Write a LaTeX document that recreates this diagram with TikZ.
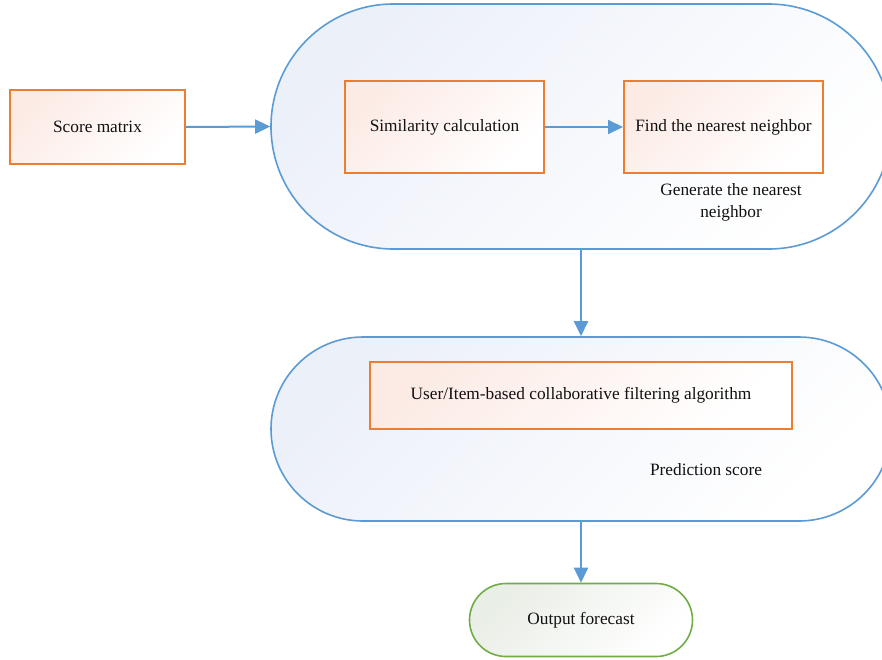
\documentclass[tikz,border=0pt]{standalone}
\usepackage{fontspec}
\setmainfont{Liberation Serif}
\usetikzlibrary{arrows.meta,shapes.misc}

\definecolor{boxline}{HTML}{ED7D31}
\definecolor{boxfill}{HTML}{FCEBE5}
\definecolor{stageline}{HTML}{5B9BD5}
\definecolor{stagefill}{HTML}{ECF0F9}
\definecolor{endline}{HTML}{70AD47}
\definecolor{endfill}{HTML}{E9EEE6}
\definecolor{flow}{HTML}{5B9BD5}
\definecolor{ink}{HTML}{111111}

\tikzset{
  txt/.style={font=\fontsize{17.3}{22}\selectfont, text=ink, align=center},
  stepbox/.style={txt, draw=boxline, line width=2pt, inner sep=0pt,
    top color=boxfill, bottom color=white, shading angle=45},
  stage/.style={rounded rectangle, draw=stageline, line width=1.6pt, inner sep=0pt,
    top color=stagefill, bottom color=white, shading angle=45},
  endcap/.style={txt, rounded rectangle, draw=endline, line width=1.6pt, inner sep=0pt,
    top color=endfill, bottom color=white, shading angle=45},
  flowarrow/.style={draw=flow, line width=2pt,
    -{Triangle[length=15pt,width=14pt]}, color=flow},
}

\begin{document}
\begin{tikzpicture}[x=1pt,y=-1pt]
  \useasboundingbox (0,0) rectangle (882,659);
  \clip (0,0) rectangle (882,659);
  \fill[white] (0,0) rectangle (882,659);

  % two processing stages
  \node[stage, minimum width=620pt, minimum height=245pt] (upper) at (581,126.5) {};
  \node[stage, minimum width=620pt, minimum height=184pt] (lower) at (581,429) {};

  % steps
  \node[stepbox, minimum width=175pt, minimum height=74pt] (score) at (97.5,127) {Score matrix};
  \node[stepbox, minimum width=199pt, minimum height=92pt] (sim) at (444.5,127) {Similarity calculation};
  \node[stepbox, minimum width=199pt, minimum height=92pt] (find) at (723.5,127) {Find the nearest neighbor};
  \node[stepbox, minimum width=422pt, minimum height=67pt] (cf) at (581,395.5) {User/Item-based collaborative filtering algorithm};
  \node[endcap, minimum width=223pt, minimum height=73pt] (out) at (581,620) {Output forecast};

  % stage captions
  \node[txt] (gen) at (731,202) {Generate the nearest\\neighbor};
  \node[txt] (pred) at (706,470) {Prediction score};

  % connectors
  \draw[flowarrow] (score.east) -- (upper.west);
  \draw[flowarrow] (sim.east) -- (find.west);
  \draw[flowarrow] (upper.south) -- (lower.north);
  \draw[flowarrow] (lower.south) -- (out.north);
\end{tikzpicture}
\end{document}
